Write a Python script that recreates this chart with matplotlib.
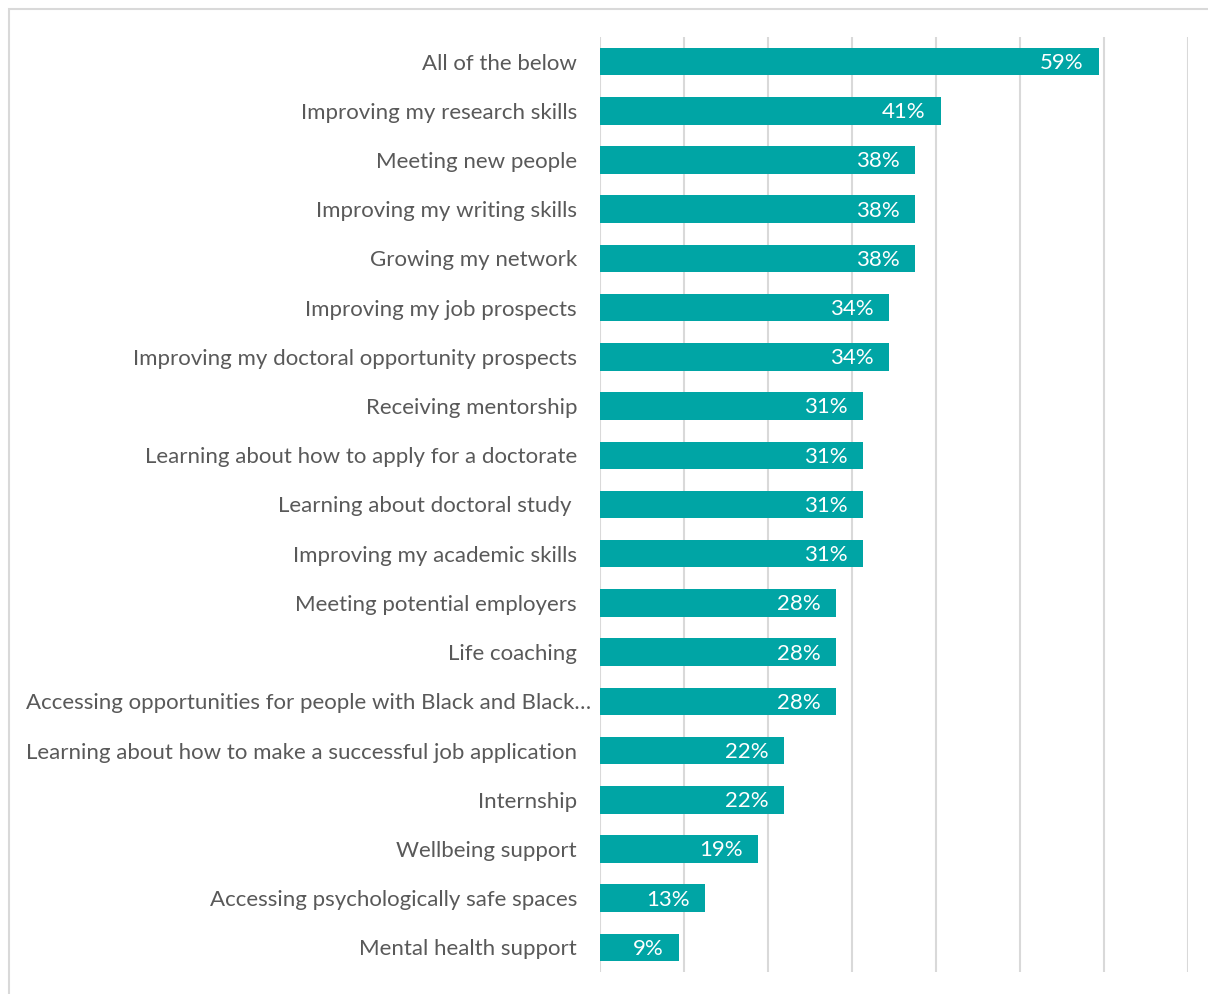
import matplotlib
matplotlib.use("Agg")
import matplotlib.pyplot as plt
import matplotlib.transforms as mtransforms
from matplotlib.patches import Rectangle

categories = [
    "All of the below",
    "Improving my research skills",
    "Meeting new people",
    "Improving my writing skills",
    "Growing my network",
    "Improving my job prospects",
    "Improving my doctoral opportunity prospects",
    "Receiving mentorship",
    "Learning about how to apply for a doctorate",
    "Learning about doctoral study ",
    "Improving my academic skills",
    "Meeting potential employers",
    "Life coaching",
    "Accessing opportunities for people with Black and Black\u2026",
    "Learning about how to make a successful job application",
    "Internship",
    "Wellbeing support",
    "Accessing psychologically safe spaces",
    "Mental health support",
]
values = [59.4, 40.6, 37.5, 37.5, 37.5, 34.4, 34.4, 31.3, 31.3, 31.3, 31.3,
          28.1, 28.1, 28.1, 21.9, 21.9, 18.8, 12.5, 9.4]
labels = ["59%", "41%", "38%", "38%", "38%", "34%", "34%", "31%", "31%", "31%",
          "31%", "28%", "28%", "28%", "22%", "22%", "19%", "13%", "9%"]

plt.rcParams['font.family'] = ['Lato', 'DejaVu Sans']

W, H = 1208, 994
fig = plt.figure(figsize=(W / 100, H / 100), dpi=100)
fig.patch.set_facecolor("white")

# outer frame
fig.add_artist(Rectangle((9 / W, -0.01), 1.02, 1 - 9 / H + 0.01, transform=fig.transFigure,
                         fill=False, edgecolor="#d9d9d9", linewidth=1.5))

left, right = 600 / W, 1188 / W
top, bottom = 1 - 37 / H, 1 - 972 / H
ax = fig.add_axes([left, bottom, right - left, top - bottom])

y = list(range(len(categories)))
bars = ax.barh(y, values, height=0.56, color="#00A5A5", zorder=3)
ax.set_xlim(0, 70)
ax.set_ylim(len(categories) - 0.5, -0.5)
ax.set_xticks(range(0, 71, 10))
ax.set_xticklabels([])
ax.tick_params(axis="x", length=0)
ax.tick_params(axis="y", length=0, pad=16.5)
ax.set_yticks(y)
ax.set_yticklabels(categories, fontsize=16, color="#595959")
ax.grid(axis="x", color="#d9d9d9", linewidth=1.5, zorder=0)
for s in ax.spines.values():
    s.set_visible(False)

# truncated label overflows toward the bars
for tl in ax.get_yticklabels():
    if tl.get_text().endswith("\u2026"):
        tl.set_transform(tl.get_transform() + mtransforms.ScaledTranslation(0.14, 0, fig.dpi_scale_trans))

for b, lab in zip(bars, labels):
    ax.annotate(lab, (b.get_width(), b.get_y() + b.get_height() / 2),
                xytext=(-11, -1), textcoords="offset points", ha="right", va="center",
                color="white", fontsize=16, zorder=4)

fig.savefig("out.png", dpi=100)
